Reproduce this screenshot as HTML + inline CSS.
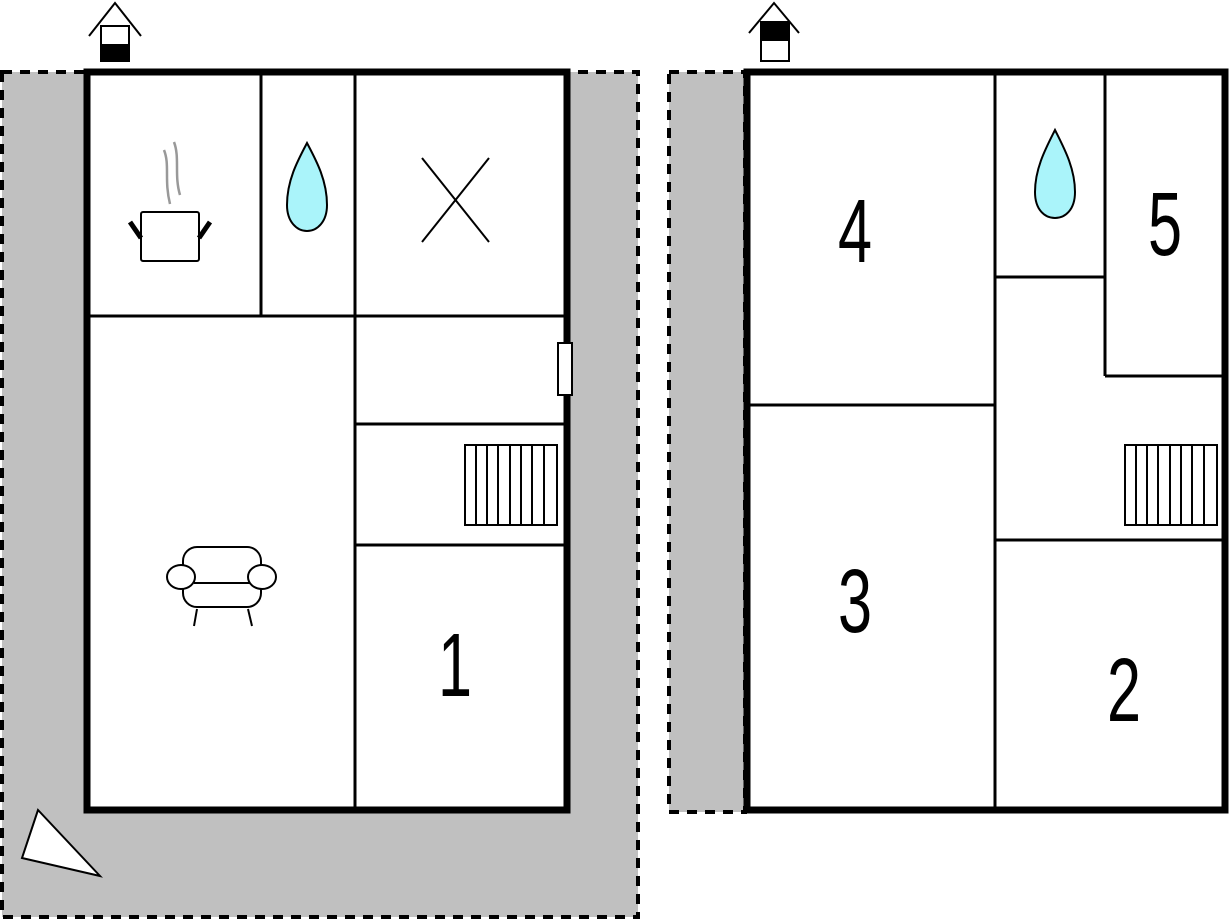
<!DOCTYPE html>
<html><head><meta charset="utf-8"><style>body{margin:0;background:#fff}svg{display:block}</style></head><body>
<svg width="1229" height="922" viewBox="0 0 1229 922" xmlns="http://www.w3.org/2000/svg">
<rect x="2" y="72" width="636" height="845" fill="#c0c0c0" stroke="#000" stroke-width="4" stroke-dasharray="10,8"/>
<rect x="669" y="72" width="76" height="740" fill="#c0c0c0" stroke="#000" stroke-width="4" stroke-dasharray="10,8"/>
<rect x="87" y="72" width="480" height="738" fill="#fff" stroke="#000" stroke-width="7"/>
<rect x="747" y="72" width="478" height="738" fill="#fff" stroke="#000" stroke-width="7"/>
<g stroke="#000" stroke-width="3" fill="none">
<line x1="261" y1="72" x2="261" y2="316"/><line x1="355" y1="72" x2="355" y2="808"/>
<line x1="87" y1="316" x2="567" y2="316"/><line x1="355" y1="424" x2="567" y2="424"/><line x1="355" y1="545" x2="567" y2="545"/>
<line x1="995" y1="72" x2="995" y2="810"/><line x1="1105" y1="72" x2="1105" y2="376"/>
<line x1="747" y1="405" x2="995" y2="405"/><line x1="995" y1="277" x2="1105" y2="277"/>
<line x1="1105" y1="376" x2="1225" y2="376"/><line x1="995" y1="540" x2="1225" y2="540"/>
</g>
<rect x="558" y="343" width="14" height="52" fill="#fff" stroke="#000" stroke-width="2"/>
<g stroke="#000" stroke-width="2" fill="#fff">
<rect x="465" y="445" width="92" height="80"/>
<path d="M476 445V525M487 445V525M498 445V525M510 445V525M521 445V525M532 445V525M544 445V525"/>
<rect x="1125" y="445" width="92" height="80"/>
<path d="M1136 445V525M1147 445V525M1158 445V525M1170 445V525M1181 445V525M1192 445V525M1204 445V525"/>
</g>
<g stroke="#000" stroke-width="2" fill="none"><line x1="422" y1="158" x2="489" y2="242"/><line x1="489" y1="158" x2="422" y2="242"/></g>
<path d="M307 143 C298 160 287 180 287 205 C287 222 297 231 307 231 C317 231 327 222 327 205 C327 180 316 160 307 143Z" fill="#aaf4fa" stroke="#000" stroke-width="2"/>
<path d="M1055 130 C1046 148 1035 168 1035 192 C1035 210 1045 218 1055 218 C1065 218 1075 210 1075 192 C1075 168 1064 148 1055 130Z" fill="#aaf4fa" stroke="#000" stroke-width="2"/>
<g stroke="#999" stroke-width="2.5" fill="none"><path d="M164 150 C170 165 164 180 170 204"/><path d="M174 142 C180 158 174 175 180 195"/></g>
<rect x="141" y="212" width="58" height="49" rx="2" fill="#fff" stroke="#000" stroke-width="2"/>
<path d="M130 222 L141 238 M210 222 L199 238" stroke="#000" stroke-width="5"/>
<g stroke="#000" stroke-width="2" fill="#fff">
<rect x="183" y="547" width="78" height="60" rx="14"/>
<line x1="194" y1="583" x2="250" y2="583"/>
<ellipse cx="181" cy="577" rx="14" ry="12"/><ellipse cx="262" cy="577" rx="14" ry="12"/>
<line x1="197" y1="609" x2="194" y2="626"/><line x1="248" y1="609" x2="252" y2="626"/>
</g>
<polygon points="38,810 22,858 100,876" fill="#fff" stroke="#000" stroke-width="2"/>
<g stroke="#000" stroke-width="2" fill="#fff">
<path d="M89 36 L115 3 L141 36" fill="none"/>
<rect x="101" y="26" width="28" height="35"/>
<rect x="101" y="45" width="28" height="16" fill="#000"/>
<path d="M749 33 L774 3 L799 33" fill="none"/>
<rect x="761" y="22" width="28" height="39"/>
<rect x="761" y="22" width="28" height="18" fill="#000"/>
</g>
<g font-family="'Liberation Sans',sans-serif" font-size="90" text-anchor="middle">
<text transform="translate(855,262) scale(0.68,1)">4</text>
<text transform="translate(1165,255) scale(0.68,1)">5</text>
<text transform="translate(855,632) scale(0.68,1)">3</text>
<text transform="translate(1124,721) scale(0.68,1)">2</text>
<text transform="translate(455,696) scale(0.68,1)">1</text>
</g>
</svg>
</body></html>
